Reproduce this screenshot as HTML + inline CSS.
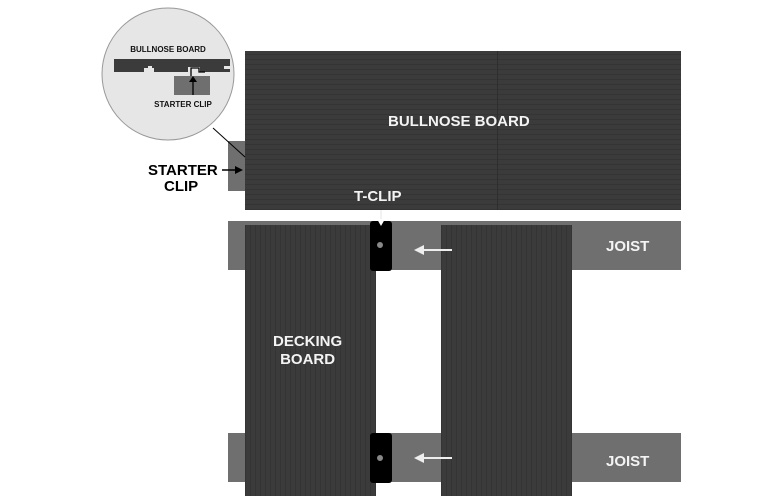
<!DOCTYPE html>
<html><head><style>
body{margin:0;width:784px;height:496px;background:#fff;position:relative;overflow:hidden;font-family:"Liberation Sans",sans-serif;font-weight:bold}
div{position:absolute}
.wood{background:#3b3b3b;background-image:repeating-linear-gradient(90deg,rgba(0,0,0,0.12) 0 1px,transparent 1px 5px)}
.woodh{background:#3b3b3b;background-image:repeating-linear-gradient(0deg,rgba(0,0,0,0.12) 0 1px,transparent 1px 5px)}
.joist{background:#6f6f6f}
.t{color:#f4f4f4;font-size:15px;white-space:nowrap}
.clip{background:#000;border-radius:3px}
.screw{width:6px;height:6px;border-radius:50%;background:#888}
</style></head><body>
<div class="joist" style="left:228px;top:141px;width:20px;height:50px"></div>
<div class="woodh" style="left:245px;top:51px;width:436px;height:159px"></div>
<div style="left:497px;top:51px;width:1px;height:159px;background:#2e2e2e"></div>
<div class="t" style="left:388px;top:113px">BULLNOSE BOARD</div>

<div class="joist" style="left:228px;top:221px;width:453px;height:49px"></div>
<div class="joist" style="left:228px;top:433px;width:453px;height:49px"></div>
<div class="wood" style="left:245px;top:225px;width:131px;height:271px"></div>
<div class="wood" style="left:441px;top:225px;width:131px;height:271px"></div>
<div class="clip" style="left:370px;top:221px;width:22px;height:50px"></div>
<div class="clip" style="left:370px;top:433px;width:22px;height:50px"></div>
<div class="screw" style="left:377px;top:242px"></div>
<div class="screw" style="left:377px;top:455px"></div>
<div class="t" style="left:606px;top:238px">JOIST</div>
<div class="t" style="left:606px;top:453px">JOIST</div>
<div class="t" style="left:273px;top:333px;text-align:center;line-height:18px">DECKING<br>BOARD</div>
<div class="t" style="left:354px;top:188px">T-CLIP</div>

<svg style="position:absolute;left:0;top:0" width="784" height="496">
<line x1="420" y1="250" x2="452" y2="250" stroke="#eee" stroke-width="2"/>
<polygon points="414,250 424,245 424,255" fill="#eee"/>
<line x1="420" y1="458" x2="452" y2="458" stroke="#eee" stroke-width="2"/>
<polygon points="414,458 424,453 424,463" fill="#eee"/>
<line x1="381" y1="210" x2="381" y2="222" stroke="#eee" stroke-width="1.5"/>
<polygon points="377,219 385,219 381,226" fill="#fff"/>
<line x1="213" y1="128" x2="245" y2="157" stroke="#000" stroke-width="1"/>
<circle cx="168" cy="74" r="66" fill="#e6e6e6" stroke="#999" stroke-width="1"/>
<rect x="114" y="59" width="116" height="13" fill="#3b3b3b"/>
<rect x="174" y="76" width="36" height="19" fill="#6f6f6f"/>
<rect x="144" y="68" width="10" height="4" fill="#e6e6e6"/>
<rect x="148" y="66" width="4" height="6" fill="#e6e6e6"/>
<rect x="188" y="67" width="12" height="5" fill="#e6e6e6"/>
<rect x="224" y="66" width="6" height="3" fill="#e6e6e6"/>
<path d="M191,76 v-8 h8 v4 h6" stroke="#000" stroke-width="1.3" fill="none"/>
<line x1="193" y1="95" x2="193" y2="80" stroke="#000" stroke-width="1.3"/>
<polygon points="189,82 197,82 193,76" fill="#000"/>
<text x="168" y="52" font-size="8" text-anchor="middle" fill="#111" font-family="Liberation Sans" font-weight="bold">BULLNOSE BOARD</text>
<text x="183" y="107" font-size="8" text-anchor="middle" fill="#111" font-family="Liberation Sans" font-weight="bold">STARTER CLIP</text>
<text x="148" y="175" font-size="15" fill="#000" font-family="Liberation Sans" font-weight="bold">STARTER</text>
<text x="164" y="191" font-size="15" fill="#000" font-family="Liberation Sans" font-weight="bold">CLIP</text>
<line x1="222" y1="170" x2="238" y2="170" stroke="#000" stroke-width="1.5"/>
<polygon points="243,170 235,166 235,174" fill="#000"/>
</svg>
</body></html>
